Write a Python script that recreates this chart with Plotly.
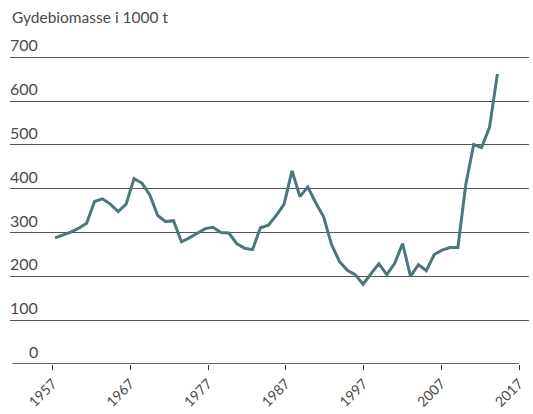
import plotly.graph_objects as go

# Spawning stock biomass, thousand tonnes
years = list(range(1957, 2014))
biomass = [
    288, 295, 301, 310, 321, 371, 377, 365, 348, 365,   # 1957-1966
    423, 413, 386, 339, 325, 327, 279, 288, 299, 309,   # 1967-1976
    312, 300, 299, 275, 264, 261, 311, 317, 339, 365,   # 1977-1986
    441, 382, 404, 368, 336, 273, 234, 214, 204, 182,   # 1987-1996
    206, 229, 204, 230, 275, 200, 227, 213, 250, 260,   # 1997-2006
    266, 266, 410, 501, 494, 540, 662,                  # 2007-2013
]

tick_years = [1957, 1967, 1977, 1987, 1997, 2007, 2017]
y_ticks = [0, 100, 200, 300, 400, 500, 600, 700]
y_title = "Gydebiomasse i 1000 t"

line_color = "#4b777d"
grid_color = "#555555"
text_color = "#4a4a4a"
font_family = "Lato, 'Open Sans', sans-serif"

# plot area spans 519 px; value labels are right-aligned 30 px in
label_right = 30 / 519

fig = go.Figure()
fig.add_trace(go.Scatter(
    x=years, y=biomass, mode="lines",
    line=dict(color=line_color, width=3),
    xaxis="x", yaxis="y", hoverinfo="x+y",
))

# value labels sit just above their gridline, at the left edge
annotations = [
    dict(x=label_right, xref="paper", y=v, yref="y", text=str(v),
         xanchor="right", yanchor="bottom", yshift=1, showarrow=False,
         font=dict(size=16, color=text_color, family=font_family))
    for v in y_ticks
]
annotations.append(dict(
    x=0, xref="paper", y=1, yref="paper", text=y_title,
    xanchor="left", yanchor="bottom", yshift=28, showarrow=False,
    font=dict(size=15.5, color=text_color, family=font_family)))

fig.update_layout(
    width=533, height=414,
    margin=dict(l=10, r=4, t=56, b=45),
    paper_bgcolor="white", plot_bgcolor="white",
    showlegend=False,
    font=dict(family=font_family, color=text_color),
    xaxis=dict(range=[1951.30, 2017.0], visible=False, fixedrange=True),
    xaxis2=dict(
        overlaying="x", anchor="y", side="bottom",
        range=[1951.506, 2018.287],
        tickvals=tick_years, ticktext=[str(t) for t in tick_years],
        ticks="outside", ticklen=5, tickwidth=1, tickcolor="#333333",
        tickangle=-45, tickfont=dict(size=14, color=text_color),
        showgrid=False, showline=False, zeroline=False,
    ),
    yaxis=dict(
        range=[0, 703], tickvals=y_ticks[1:], showticklabels=False,
        showgrid=True, gridcolor=grid_color, gridwidth=1,
        zeroline=False, showline=False, fixedrange=True,
    ),
    shapes=[dict(type="line", xref="x2", yref="y",
                 x0=1951.8, x1=2017, y0=0, y1=0,
                 line=dict(color="#333333", width=1.5))],
    annotations=annotations,
)

fig.write_html("out.html")
